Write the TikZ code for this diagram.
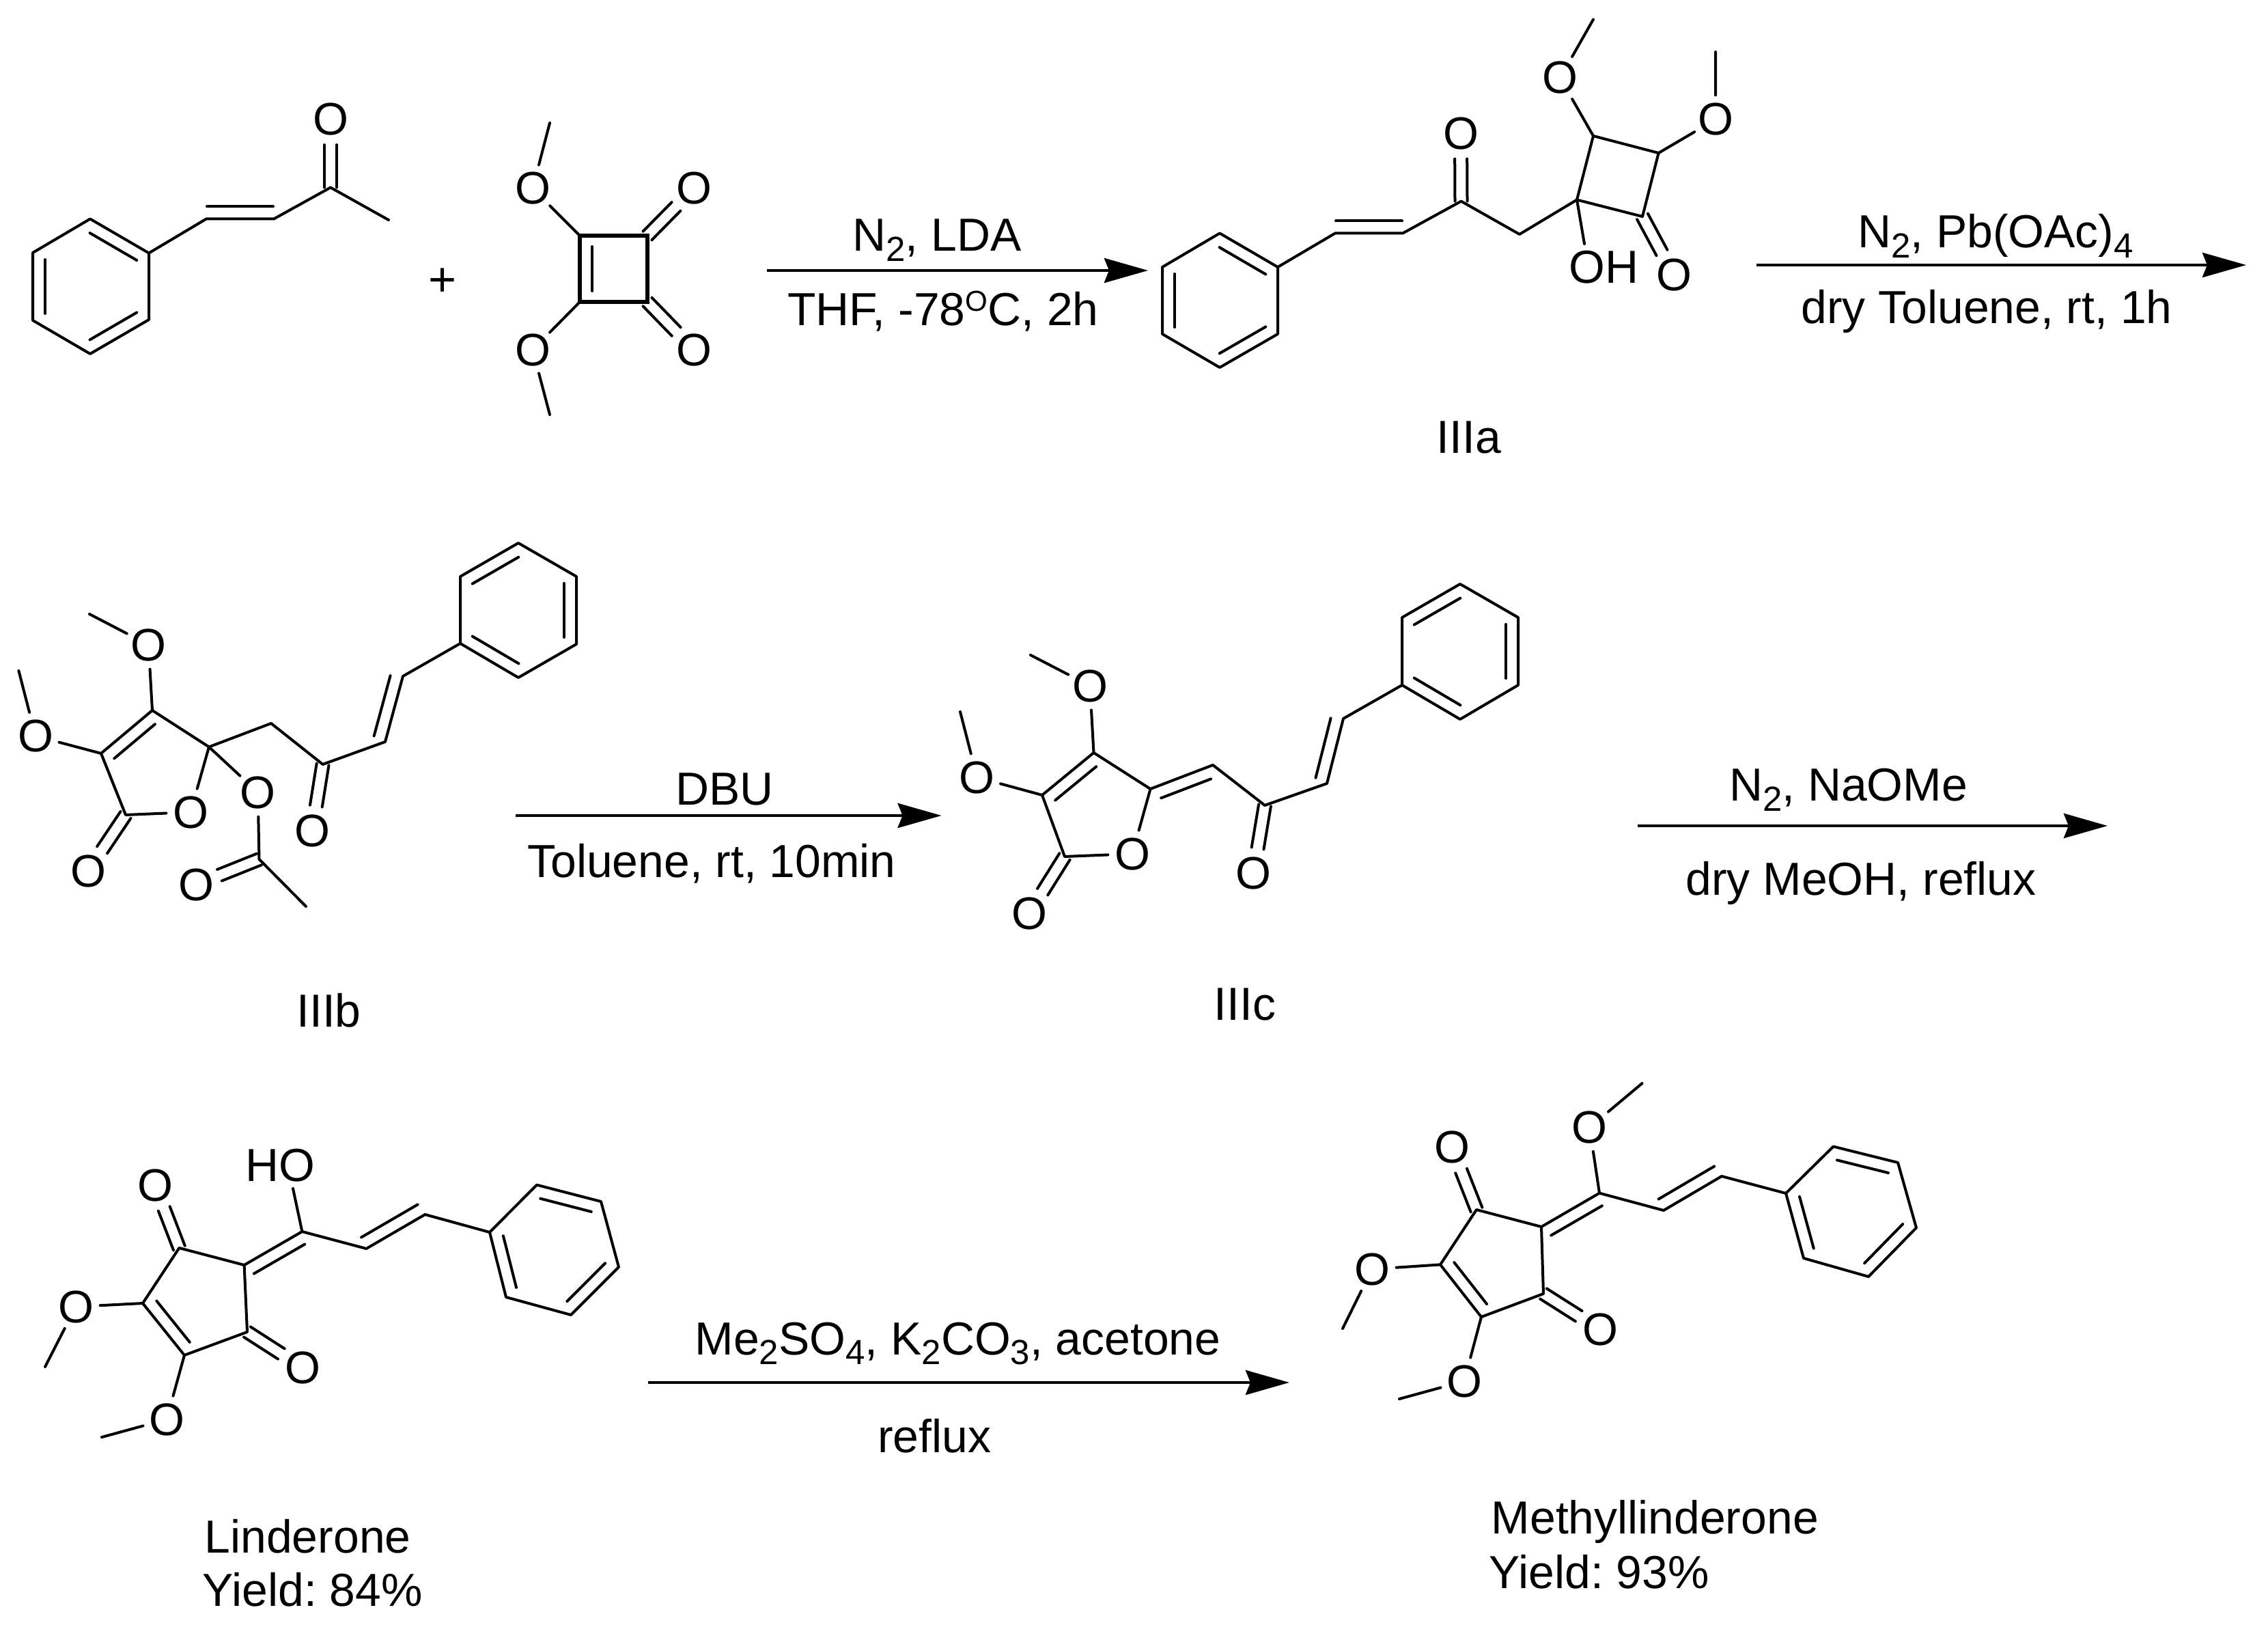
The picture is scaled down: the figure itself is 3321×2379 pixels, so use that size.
\documentclass[tikz,border=0pt]{standalone}
\usepackage{fontspec}
\setmainfont{Liberation Sans}
\usetikzlibrary{arrows.meta,calc}
\frenchspacing

\newcommand{\low}[1]{\raisebox{-.22em}{\fontsize{14.5}{15}\selectfont #1}}
\newcommand{\high}[1]{\raisebox{.32em}{\fontsize{12}{13}\selectfont #1}}
\newcommand{\dbl}[3][.1cm]{\draw[bond,shorten <=#1,shorten >=#1] ($(#2)!.18cm!90:(#3)$) -- ($(#3)!.18cm!-90:(#2)$);}
\newcommand{\dco}[2]{%
    \draw[bond,shorten >=.37cm] ($(#1)!.09cm!90:(#2)$) -- ($(#2)!.09cm!-90:(#1)$);
    \draw[bond,shorten >=.37cm] ($(#1)!.09cm!-90:(#2)$) -- ($(#2)!.09cm!90:(#1)$);}
\newcommand{\phring}[7]{%
    \coordinate (#1a) at (#2);
    \coordinate (#1b) at (#3);
    \coordinate (#1c) at (#4);
    \coordinate (#1d) at (#5);
    \coordinate (#1e) at (#6);
    \coordinate (#1f) at (#7);
    \draw[bond] (#1a) -- (#1b) -- (#1c) -- (#1d) -- (#1e) -- (#1f) -- cycle;
    \dbl{#1b}{#1c}
    \dbl{#1d}{#1e}
    \dbl{#1f}{#1a}}

\begin{document}
\begin{tikzpicture}[
    x=0.01cm, y=-0.01cm,
    bond/.style={line width=.04cm, line cap=round, line join=round},
    heavybond/.style={line width=.058cm, line join=miter},
    atom/.style={circle, inner sep=0pt, minimum size=.68cm, font=\fontsize{19}{23}\selectfont},
    txt/.style={inner sep=0pt, anchor=base, font=\fontsize{19.3}{23}\selectfont},
    rxn/.style={line width=.045cm, -{Stealth[length=.64cm, width=.36cm, inset=.07cm]}}
]
    \useasboundingbox (0,0) rectangle (3321,2379);

    % enone
    \phring{pa}{132,320.5}{48,370}{48,469}{132,518}{218,468}{218,370.5}
    \coordinate (a1) at (302,320.5);
    \coordinate (a2) at (401,320.5);
    \coordinate (a3) at (484,274.5);
    \coordinate (a4) at (569,322);
    \node [atom] (ao) at (484,175) {O};
    \draw[bond] (paf) -- (a1) -- (a2) -- (a3) -- (a4);
    \dbl[.01cm]{a1}{a2}
    \dco{a3}{ao}

    \node [txt, font=\fontsize{20}{23}\selectfont] (plus) at (648,434) {+};

    % squarate
    \coordinate (s1) at (849,345);
    \coordinate (s2) at (948,345);
    \coordinate (s3) at (948,442);
    \coordinate (s4) at (849,442);
    \coordinate (sm1) at (805,180);
    \coordinate (sm2) at (805,607);
    \node [atom] (so1) at (780,276) {O};
    \node [atom] (so2) at (780,512) {O};
    \node [atom] (so3) at (1016,276) {O};
    \node [atom] (so4) at (1016,512) {O};
    \draw[heavybond] (s1) -- (s2) -- (s3) -- (s4) -- cycle;
    \dbl[.16cm]{s1}{s4}
    \draw[bond] (s1) -- (so1) -- (sm1);
    \draw[bond] (s4) -- (so2) -- (sm2);
    \dco{s2}{so3}
    \dco{s3}{so4}

    % first arrow
    \coordinate (r1a) at (1123,396);
    \coordinate (r1b) at (1681,396);
    \draw[rxn] (r1a) -- (r1b);
    \node [txt] (r1top) at (1372,368) {N\low{2}, LDA};
    \node [txt] (r1bot) at (1381,477) {THF, -78\high{O}C, 2h};

    % IIIa
    \phring{pb}{1786,341.5}{1702,391}{1702,489}{1786,538}{1871,489}{1871,391}
    \coordinate (b1) at (1955,341.5);
    \coordinate (b2) at (2054,341.5);
    \coordinate (b3) at (2139.5,294.6);
    \coordinate (b4) at (2225,343);
    \coordinate (c1) at (2309,292.5);
    \coordinate (c2) at (2405,317);
    \coordinate (c3) at (2428.6,224);
    \coordinate (c4) at (2333,199);
    \coordinate (cm1) at (2333,28.5);
    \coordinate (cm2) at (2512,76);
    \coordinate (chy) at (2320,357);
    \node [atom] (bo) at (2139,195.5) {O};
    \node [atom] (co1) at (2284.4,114) {O};
    \node [atom] (co2) at (2512,175) {O};
    \node [atom] (co3) at (2451,402.6) {O};
    \node [txt, anchor=base west] (coh) at (2297,414.6) {OH};
    \draw[bond] (pbf) -- (b1) -- (b2) -- (b3) -- (b4) -- (c1);
    \draw[bond] (c1) -- (c2) -- (c3) -- (c4) -- cycle;
    \dbl[.01cm]{b1}{b2}
    \dco{b3}{bo}
    \dco{c2}{co3}
    \draw[bond] (c4) -- (co1) -- (cm1);
    \draw[bond] (c3) -- (co2) -- (cm2);
    \draw[bond] (c1) -- (chy);
    \node [txt] (n3a) at (2151,663) {IIIa};

    % second arrow
    \coordinate (r2a) at (2572,388);
    \coordinate (r2b) at (3289,388);
    \draw[rxn] (r2a) -- (r2b);
    \node [txt] (r2top) at (2922,363) {N\low{2}, Pb(OAc)\low{4}};
    \node [txt] (r2bot) at (2909,474) {dry Toluene, rt, 1h};

    % IIIb
    \phring{pc}{844,844}{759,795}{674,844}{674,942}{759,992}{844,943}
    \coordinate (d1) at (590,990);
    \coordinate (d2) at (564,1086);
    \coordinate (d3) at (472.6,1119);
    \coordinate (d4) at (397,1059);
    \coordinate (e1) at (306,1093.5);
    \coordinate (e2) at (223,1040);
    \coordinate (e3) at (148,1103);
    \coordinate (e4) at (184,1193);
    \coordinate (f1) at (379.5,1258);
    \coordinate (f2) at (448,1327);
    \coordinate (em1) at (131,899);
    \coordinate (em2) at (27.4,982);
    \node [atom] (do) at (457,1216.6) {O};
    \node [atom] (eo) at (279,1189) {O};
    \node [atom] (eo1) at (217.5,944) {O};
    \node [atom] (eo2) at (52,1077.5) {O};
    \node [atom] (eo3) at (129,1275) {O};
    \node [atom] (fo1) at (377.6,1160) {O};
    \node [atom] (fo2) at (287,1295) {O};
    \draw[bond] (pcd) -- (d1) -- (d2) -- (d3) -- (d4) -- (e1) -- (e2) -- (e3) -- (e4) -- (eo) -- (e1);
    \dbl[.04cm]{d2}{d1}
    \dbl{e2}{e3}
    \dco{d3}{do}
    \dco{e4}{eo3}
    \draw[bond] (e2) -- (eo1) -- (em1);
    \draw[bond] (e3) -- (eo2) -- (em2);
    \draw[bond] (e1) -- (fo1) -- (f1) -- (f2);
    \dco{f1}{fo2}
    \node [txt] (n3b) at (481.5,1503) {IIIb};

    % third arrow
    \coordinate (r3a) at (755,1194);
    \coordinate (r3b) at (1378.6,1194);
    \draw[rxn] (r3a) -- (r3b);
    \node [txt] (r3top) at (1061,1178) {DBU};
    \node [txt] (r3bot) at (1042,1284) {Toluene, rt, 10min};

    % IIIc
    \phring{pd}{2223,904}{2138,855}{2053,904}{2053,1003}{2138,1053}{2223,1003}
    \coordinate (g1) at (1967,1052);
    \coordinate (g2) at (1943,1147);
    \coordinate (g3) at (1852,1179);
    \coordinate (g4) at (1776,1120);
    \coordinate (h1) at (1684.5,1155);
    \coordinate (h2) at (1601.5,1102);
    \coordinate (h3) at (1526,1164);
    \coordinate (h4) at (1559,1254);
    \coordinate (hm1) at (1509,959);
    \coordinate (hm2) at (1406,1042);
    \node [atom] (go) at (1835.5,1278.5) {O};
    \node [atom] (ho) at (1658,1250) {O};
    \node [atom] (ho1) at (1596,1004) {O};
    \node [atom] (ho2) at (1430.6,1138) {O};
    \node [atom] (ho3) at (1507,1337) {O};
    \draw[bond] (pdd) -- (g1) -- (g2) -- (g3) -- (g4) -- (h1) -- (h2) -- (h3) -- (h4) -- (ho) -- (h1);
    \dbl[.04cm]{g2}{g1}
    \dbl{g4}{h1}
    \dbl{h2}{h3}
    \dco{g3}{go}
    \dco{h4}{ho3}
    \draw[bond] (h2) -- (ho1) -- (hm1);
    \draw[bond] (h3) -- (ho2) -- (hm2);
    \node [txt] (n3c) at (1823,1493) {IIIc};

    % fourth arrow
    \coordinate (r4a) at (2398,1209);
    \coordinate (r4b) at (3086,1209);
    \draw[rxn] (r4a) -- (r4b);
    \node [txt] (r4top) at (2706.5,1172.7) {N\low{2}, NaOMe};
    \node [txt] (r4bot) at (2725,1310.7) {dry MeOH, reflux};

    % Linderone
    \phring{pe}{786,1734.7}{717,1804}{741,1899}{836,1925}{906,1855}{880,1759}
    \coordinate (k1) at (262.4,1827);
    \coordinate (k2) at (357.6,1852);
    \coordinate (k3) at (362,1950);
    \coordinate (k4) at (270,1984);
    \coordinate (k5) at (209,1908);
    \coordinate (k6) at (442.4,1803);
    \coordinate (k7) at (536.4,1828);
    \coordinate (k8) at (622.4,1778);
    \coordinate (khy) at (429,1740);
    \coordinate (km1) at (66,2001);
    \coordinate (km2) at (149,2104);
    \node [atom] (ko1) at (227,1735) {O};
    \node [atom] (ko2) at (443,2002) {O};
    \node [atom] (ko3) at (111,1913) {O};
    \node [atom] (ko4) at (244,2078) {O};
    \node [txt, anchor=base west] (koh) at (359,1729) {HO};
    \draw[bond] (k1) -- (k2) -- (k3) -- (k4) -- (k5) -- cycle;
    \draw[bond] (k2) -- (k6) -- (k7) -- (k8) -- (peb);
    \dbl{k5}{k4}
    \dbl[.06cm]{k6}{k2}
    \dbl[.02cm]{k7}{k8}
    \dco{k1}{ko1}
    \dco{k3}{ko2}
    \draw[bond] (k5) -- (ko3) -- (km1);
    \draw[bond] (k4) -- (ko4) -- (km2);
    \draw[bond] (k6) -- (khy);
    \node [txt, anchor=base west] (nl1) at (299,2273.4) {Linderone};
    \node [txt, anchor=base west] (nl2) at (296,2351) {Yield: 84\%};

    % last arrow
    \coordinate (r5a) at (949,2024);
    \coordinate (r5b) at (1888,2024);
    \draw[rxn] (r5a) -- (r5b);
    \node [txt] (r5top) at (1402.6,1983) {Me\low{2}SO\low{4}, K\low{2}CO\low{3}, acetone};
    \node [txt] (r5bot) at (1368,2126) {reflux};

    % Methyllinderone
    \phring{pf}{2684.5,1678.5}{2615,1747}{2641,1842}{2736,1869}{2806,1797.5}{2779,1702}
    \coordinate (m1) at (2162,1771);
    \coordinate (m2) at (2257,1796);
    \coordinate (m3) at (2260,1894);
    \coordinate (m4) at (2169,1928);
    \coordinate (m5) at (2109,1851.4);
    \coordinate (m6) at (2342,1746.7);
    \coordinate (m7) at (2436,1772);
    \coordinate (m8) at (2521,1722);
    \coordinate (mm1) at (1966,1945);
    \coordinate (mm2) at (2049,2048);
    \coordinate (mm3) at (2404.5,1586);
    \node [atom] (mo1) at (2126,1679.6) {O};
    \node [atom] (mo2) at (2343,1946.6) {O};
    \node [atom] (mo3) at (2009,1858) {O};
    \node [atom] (mo4) at (2144,2022) {O};
    \node [atom] (mo5) at (2327.6,1650.5) {O};
    \draw[bond] (m1) -- (m2) -- (m3) -- (m4) -- (m5) -- cycle;
    \draw[bond] (m2) -- (m6) -- (m7) -- (m8) -- (pfb);
    \dbl{m5}{m4}
    \dbl[.06cm]{m6}{m2}
    \dbl[.02cm]{m7}{m8}
    \dco{m1}{mo1}
    \dco{m3}{mo2}
    \draw[bond] (m5) -- (mo3) -- (mm1);
    \draw[bond] (m4) -- (mo4) -- (mm2);
    \draw[bond] (m6) -- (mo5) -- (mm3);
    \node [txt, anchor=base west] (nm1) at (2183,2245.4) {Methyllinderone};
    \node [txt, anchor=base west] (nm2) at (2180,2325) {Yield: 93\%};
\end{tikzpicture}
\end{document}
